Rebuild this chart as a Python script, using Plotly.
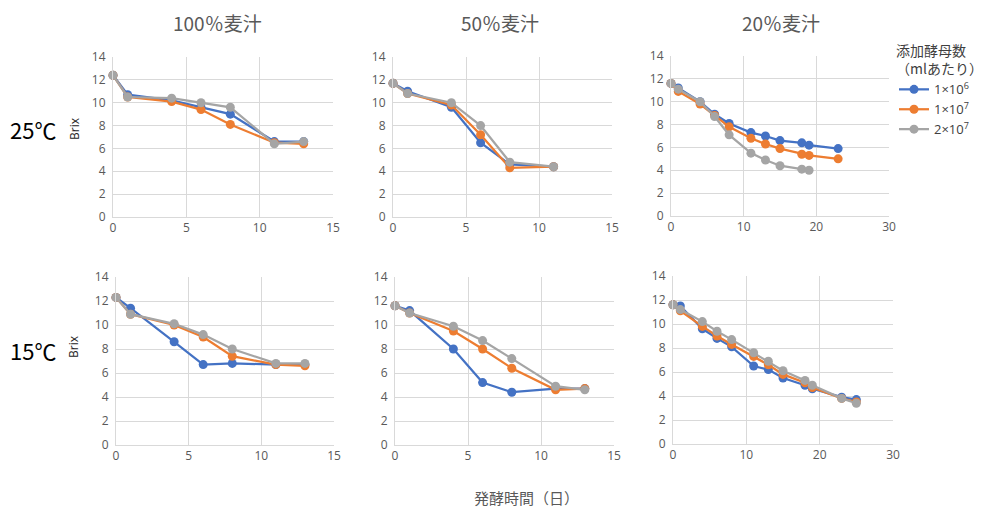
import plotly.graph_objects as go

# ---------------- data ----------------
series_names = ["1×10<sup>6</sup>", "1×10<sup>7</sup>", "2×10<sup>7</sup>"]
colors = ["#4472C4", "#ED7D31", "#A5A5A5"]

panel_titles = ["100％麦汁", "50％麦汁", "20％麦汁"]
row_labels = ["25℃", "15℃"]

# 25°C, 100% wort
days_25_100 = [0, 1, 4, 6, 8, 11, 13]
brix_25_100_a = [12.4, 10.7, 10.2, 9.6, 9.0, 6.6, 6.6]
brix_25_100_b = [12.4, 10.5, 10.1, 9.4, 8.1, 6.5, 6.4]
brix_25_100_c = [12.4, 10.5, 10.4, 10.0, 9.6, 6.4, 6.6]

# 25°C, 50% wort
days_25_50 = [0, 1, 4, 6, 8, 11]
brix_25_50_a = [11.7, 11.0, 9.6, 6.5, 4.6, 4.4]
brix_25_50_b = [11.7, 10.8, 9.8, 7.2, 4.3, 4.4]
brix_25_50_c = [11.7, 10.8, 10.0, 8.0, 4.8, 4.4]

# 25°C, 20% wort
days_25_20 = [0, 1, 4, 6, 8, 11, 13, 15, 18, 19, 23]
days_25_20_c = [0, 1, 4, 6, 8, 11, 13, 15, 18, 19]
brix_25_20_a = [11.6, 11.2, 10.0, 8.9, 8.1, 7.3, 7.0, 6.6, 6.4, 6.2, 5.9]
brix_25_20_b = [11.6, 10.9, 9.8, 8.8, 7.8, 6.8, 6.3, 5.9, 5.4, 5.3, 5.0]
brix_25_20_c = [11.6, 11.1, 10.0, 8.7, 7.1, 5.5, 4.9, 4.4, 4.1, 4.0]

# 15°C, 100% wort
days_15_100 = [0, 1, 4, 6, 8, 11, 13]
brix_15_100_a = [12.3, 11.4, 8.6, 6.7, 6.8, 6.7, 6.7]
brix_15_100_b = [12.3, 10.9, 10.0, 9.0, 7.4, 6.7, 6.6]
brix_15_100_c = [12.3, 10.9, 10.1, 9.2, 8.0, 6.8, 6.8]

# 15°C, 50% wort
days_15_50 = [0, 1, 4, 6, 8, 11, 13]
brix_15_50_a = [11.6, 11.2, 8.0, 5.2, 4.4, 4.7, 4.7]
brix_15_50_b = [11.6, 11.0, 9.5, 8.0, 6.4, 4.6, 4.7]
brix_15_50_c = [11.6, 11.0, 9.9, 8.7, 7.2, 4.9, 4.6]

# 15°C, 20% wort
days_15_20 = [0, 1, 4, 6, 8, 11, 13, 15, 18, 19, 23, 25]
brix_15_20_a = [11.6, 11.5, 9.6, 8.8, 8.1, 6.5, 6.2, 5.5, 4.9, 4.6, 3.9, 3.7]
brix_15_20_b = [11.6, 11.1, 9.8, 9.0, 8.3, 7.3, 6.6, 5.8, 5.1, 4.7, 3.8, 3.5]
brix_15_20_c = [11.6, 11.2, 10.2, 9.4, 8.7, 7.6, 6.9, 6.1, 5.3, 4.9, 3.8, 3.4]

y_range = [0, 14]
y_dtick = 2

# ---------------- figure ----------------
OFF = 8            # page body margin
W, H = 983 - OFF, 508 - OFF

def px_x(p):
    return (p - OFF) / W

def px_y(p):
    return (H - (p - OFF)) / H

panels = [
    ((days_25_100, days_25_100, days_25_100), (brix_25_100_a, brix_25_100_b, brix_25_100_c), 15, 5, (113, 333, 57, 217)),
    ((days_25_50, days_25_50, days_25_50), (brix_25_50_a, brix_25_50_b, brix_25_50_c), 15, 5, (393, 612, 57, 217)),
    ((days_25_20, days_25_20, days_25_20_c), (brix_25_20_a, brix_25_20_b, brix_25_20_c), 30, 10, (671, 889, 56, 216)),
    ((days_15_100, days_15_100, days_15_100), (brix_15_100_a, brix_15_100_b, brix_15_100_c), 15, 5, (116, 334, 277, 445)),
    ((days_15_50, days_15_50, days_15_50), (brix_15_50_a, brix_15_50_b, brix_15_50_c), 15, 5, (395, 614, 277, 445)),
    ((days_15_20, days_15_20, days_15_20), (brix_15_20_a, brix_15_20_b, brix_15_20_c), 30, 10, (673, 893, 276, 444)),
]

fig = go.Figure()
tick_font = dict(family="Open Sans, Liberation Sans, sans-serif", size=12, color="#595959")
grid = "#D9D9D9"

layout_axes = {}
for i, (xs, ys, xmax, xd, box) in enumerate(panels):
    n = i + 1
    xa = "x" if n == 1 else f"x{n}"
    ya = "y" if n == 1 else f"y{n}"
    for k in range(3):
        fig.add_trace(go.Scatter(
            x=xs[k], y=ys[k], mode="lines+markers",
            name=series_names[k], legendgroup=f"g{k}", showlegend=(n == 1),
            line=dict(color=colors[k], width=2.25),
            marker=dict(color=colors[k], size=9),
            cliponaxis=False,
            xaxis=xa, yaxis=ya,
        ))
    x0, x1, y0, y1 = box
    layout_axes["xaxis" if n == 1 else f"xaxis{n}"] = dict(
        domain=[px_x(x0), px_x(x1)], anchor=ya, range=[0, xmax], dtick=xd,
        showgrid=True, gridcolor=grid, gridwidth=1, zeroline=False,
        showline=True, linecolor=grid, linewidth=1, automargin=False,
        ticks="", tickfont=tick_font, fixedrange=True,
    )
    layout_axes["yaxis" if n == 1 else f"yaxis{n}"] = dict(
        domain=[px_y(y1), px_y(y0)], anchor=xa, range=y_range, dtick=y_dtick,
        showgrid=True, gridcolor=grid, gridwidth=1, zeroline=False,
        showline=True, linecolor=grid, linewidth=1, automargin=False,
        ticks="", tickfont=tick_font, ticklabelstandoff=4, fixedrange=True,
    )

fig.update_layout(**layout_axes)

annotations = []
title_font = dict(family="Noto Sans CJK JP, sans-serif", size=19, color="#595959")
for cx, t in zip([217, 500, 781], panel_titles):
    annotations.append(dict(text=t, x=px_x(cx), y=px_y(22), xref="paper", yref="paper",
                            showarrow=False, xanchor="center", yanchor="middle", font=title_font))
for cy, t in zip([129, 350], row_labels):
    annotations.append(dict(text=t, x=px_x(33), y=px_y(cy), xref="paper", yref="paper",
                            showarrow=False, xanchor="center", yanchor="middle",
                            font=dict(family="Noto Sans CJK JP, sans-serif", size=22, color="#000000")))
for cy in [129, 347]:
    annotations.append(dict(text="Brix", x=px_x(74), y=px_y(cy), xref="paper", yref="paper",
                            showarrow=False, textangle=-90, xanchor="center", yanchor="middle",
                            font=dict(family="Open Sans, sans-serif", size=12, color="#262626")))
annotations.append(dict(text="発酵時間（日）", x=px_x(526), y=px_y(497), xref="paper", yref="paper",
                        showarrow=False, xanchor="center", yanchor="middle",
                        font=dict(family="Noto Sans CJK JP, sans-serif", size=15, color="#595959")))

fig.update_layout(
    width=W, height=H,
    margin=dict(l=0, r=0, t=0, b=0, autoexpand=False),
    paper_bgcolor="white", plot_bgcolor="white",
    annotations=annotations,
    showlegend=True,
    legend=dict(
        title=dict(text="添加酵母数<br>（mlあたり）",
                   font=dict(family="Noto Sans CJK JP, sans-serif", size=14, color="#404040"),
                   side="top"),
        xref="container", yref="container",
        x=px_x(894), y=px_y(38), xanchor="left", yanchor="top",
        font=dict(family="Open Sans, sans-serif", size=13, color="#404040"),
        bgcolor="rgba(0,0,0,0)", itemwidth=30, tracegroupgap=0,
        traceorder="normal",
    ),
)

fig.write_html("out.html")
